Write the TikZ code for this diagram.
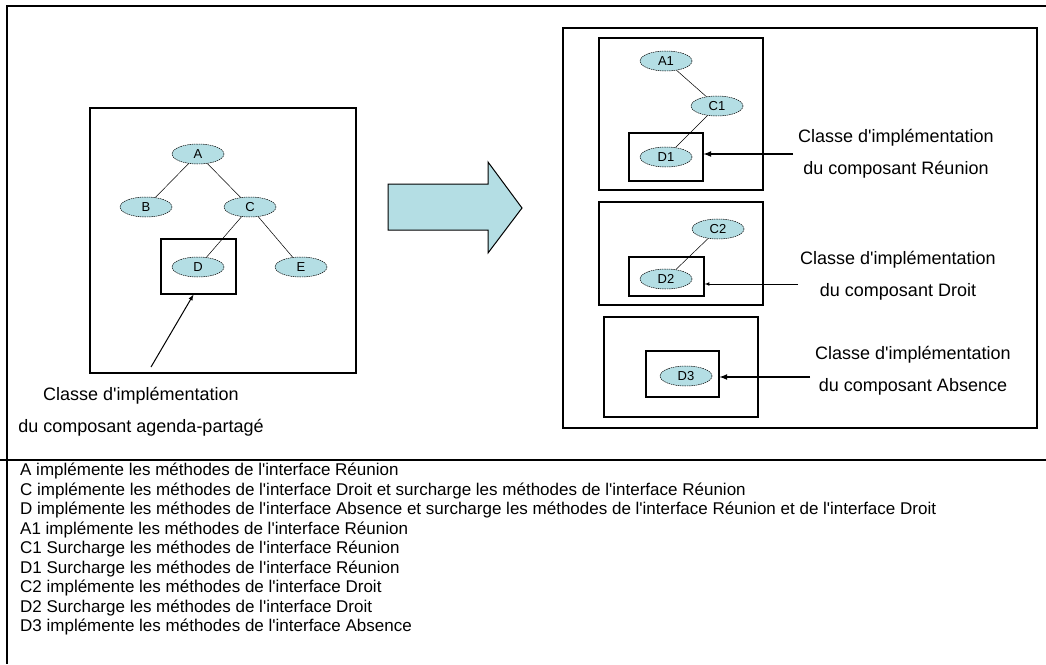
\documentclass[tikz,border=0pt]{standalone}
\usepackage{fontspec}
\setmainfont{Liberation Sans}[Ligatures=TeXOff]
\usetikzlibrary{shapes.geometric, positioning}

\definecolor{bulle}{RGB}{180,222,228}

\begin{document}
\begin{tikzpicture}[x=1pt, y=-1pt,
    cls/.style={ellipse, draw, line width=0.5pt, dash pattern=on 1.5pt off 0.8pt, fill=bulle,
        minimum width=52pt, minimum height=20pt, inner sep=0pt, font=\fontsize{13}{14}\selectfont},
    cadre/.style={draw, line width=1.1pt, inner sep=0pt},
    lien/.style={line width=0.5pt},
    lbl/.style={align=center, font=\fontsize{18}{32}\selectfont}]
    \useasboundingbox (0,0) rectangle (1046,664);

    % cadre general
    \draw[line width=1.1pt] (1046,6) -- (7,6) -- (7,664);
    \draw[line width=1.1pt] (0,460) -- (1046,460);

    % composant agenda-partage
    \node[cadre, minimum width=266pt, minimum height=265pt] (gauche) at (223,240.5) {};
    \node[cadre, minimum width=75pt, minimum height=55pt] (boxD) at (198.5,266.5) {};
    \node[cls] (A) at (198,154) {A};
    \node[cls] (B) at (146,207) {B};
    \node[cls] (C) at (250,207) {C};
    \node[cls] (D) at (198,267) {D};
    \node[cls] (E) at (301,267) {E};
    \draw[lien] (A) -- (B);
    \draw[lien] (A) -- (C);
    \draw[lien] (C) -- (D);
    \draw[lien] (C) -- (E);

    \coordinate (pD) at (151,367);
    \draw[-latex, line width=1pt] (pD) -- ([xshift=-5pt]boxD.south);
    \node[lbl] (lblG) at (141,412) {Classe d'implémentation\\du composant agenda-partagé};

    % grosse fleche
    \draw[fill=bulle, line width=1pt] (388,184) -- (488,184) -- (488,162) -- (522,208)
        -- (488,253) -- (488,230) -- (388,230) -- cycle;

    % composants
    \node[cadre, minimum width=474pt, minimum height=400pt] (droite) at (800,228) {};

    \node[cadre, minimum width=164pt, minimum height=152pt] (reunion) at (681,114) {};
    \node[cadre, minimum width=74pt, minimum height=48pt] (boxD1) at (666,157) {};
    \node[cls] (A1) at (666,61) {A1};
    \node[cls] (C1) at (717,106) {C1};
    \node[cls] (D1) at (666,157) {D1};
    \draw[lien] (A1) -- (C1);
    \draw[lien] (C1) -- (D1);

    \node[cadre, minimum width=164pt, minimum height=103pt] (droit) at (681,253.5) {};
    \node[cadre, minimum width=75pt, minimum height=39pt] (boxD2) at (666.5,276.5) {};
    \node[cls] (C2) at (718,229) {C2};
    \node[cls] (D2) at (666,279) {D2};
    \draw[lien] (C2) -- (D2);

    \node[cadre, minimum width=154pt, minimum height=100pt] (absence) at (681,367) {};
    \node[cadre, minimum width=73pt, minimum height=46pt] (boxD3) at (682.5,374) {};
    \node[cls] (D3) at (686,376) {D3};

    \coordinate (p1) at (793,154);
    \coordinate (p2) at (798,284);
    \coordinate (p3) at (810,377);
    \draw[-latex, line width=1.6pt] (p1) -- (p1 -| boxD1.east);
    \draw[-latex, line width=0.7pt] (p2) -- (p2 -| boxD2.east);
    \draw[-latex, line width=1.6pt] (p3) -- (p3 -| boxD3.east);

    \node[lbl] (lbl1) at (896,154) {Classe d'implémentation\\du composant Réunion};
    \node[lbl] (lbl2) at (898,276) {Classe d'implémentation\\du composant Droit};
    \node[lbl] (lbl3) at (913,371) {Classe d'implémentation\\du composant Absence};

    % legende
    \node[anchor=north west, align=left, inner sep=0pt, font=\fontsize{17}{19.5}\selectfont] (legende) at (20,463) {%
        A implémente les méthodes de l'interface Réunion\\
        C implémente les méthodes de l'interface Droit et surcharge les méthodes de l'interface Réunion\\
        D implémente les méthodes de l'interface Absence et surcharge les méthodes de l'interface Réunion et de l'interface Droit\\
        A1 implémente les méthodes de l'interface Réunion\\
        C1 Surcharge les méthodes de l'interface Réunion\\
        D1 Surcharge les méthodes de l'interface Réunion\\
        C2 implémente les méthodes de l'interface Droit\\
        D2 Surcharge les méthodes de l'interface Droit\\
        D3 implémente les méthodes de l'interface Absence};
\end{tikzpicture}
\end{document}
